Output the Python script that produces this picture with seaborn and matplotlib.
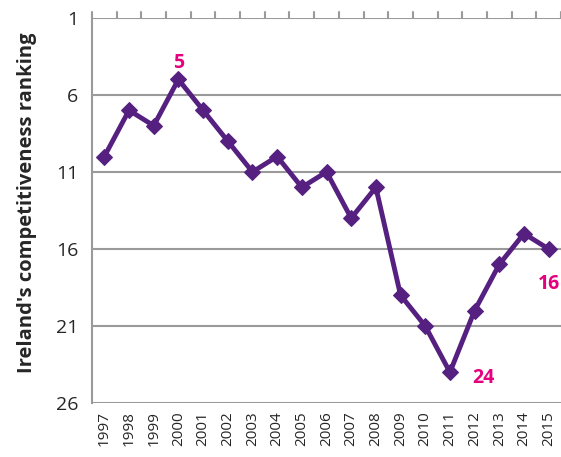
import matplotlib
matplotlib.use("Agg")
import matplotlib.pyplot as plt
import seaborn as sns
import pandas as pd

years = [str(y) for y in range(1997, 2016)]
ranking = [10, 7, 8, 5, 7, 9, 11, 10, 12, 11, 14, 12, 19, 21, 24, 20, 17, 15, 16]
y_ticks = [1, 6, 11, 16, 21, 26]

# annotated points: (year, label text)
callouts = [("2000", "5"), ("2011", "24"), ("2015", "16")]

df = pd.DataFrame({"year": years, "rank": ranking})

sns.set_style("white")
plt.rcParams["font.family"] = ["Open Sans", "DejaVu Sans"]

fig = plt.figure(figsize=(5.61, 4.57), dpi=100)
ax = fig.add_axes([0.164, 0.118, 0.836, 0.843])

grid_col = "#9a9a9a"
purple = "#55207f"
pink = "#e5007d"

for t in y_ticks:
    ax.axhline(t, color=grid_col, lw=1.5, zorder=1)

x_pos = list(range(len(years)))
sns.lineplot(x=x_pos, y=df["rank"], ax=ax, color=purple, lw=3.5,
             marker="D", markersize=8.5, markeredgecolor=purple, zorder=3)

ax.set_xlim(-0.5, len(years) - 0.5)
ax.set_ylim(26, 1)
ax.set_yticks(y_ticks)
ax.set_yticklabels([str(t) for t in y_ticks], fontsize=14)
ax.set_xticks(x_pos)
ax.set_xticklabels(years, rotation=90, fontsize=11)
ax.tick_params(axis="x", length=0, pad=6)
ax.tick_params(axis="y", length=6, width=1.5, color=grid_col, pad=4, direction="out")

ax.set_ylabel("Ireland's competitiveness ranking", fontsize=14.5, fontweight="bold")
ax.yaxis.set_label_coords(-0.118, 0.52)
ax.set_xlabel("")

for side in ["top", "right", "bottom"]:
    ax.spines[side].set_visible(False)
ax.spines["left"].set_color(grid_col)
ax.spines["left"].set_linewidth(1.5)

# category tick marks above the top gridline
for i in range(len(years) + 1):
    ax.plot([i - 0.5, i - 0.5], [1, 0.6], color=grid_col, lw=1.5, clip_on=False, zorder=1)

offsets = {"5": (0, 12), "24": (24, -4), "16": (0, -25)}
for yr, txt in callouts:
    i = years.index(yr)
    dx, dy = offsets[txt]
    ax.annotate(txt, (i, ranking[i]), xytext=(dx, dy), textcoords="offset points",
                ha="center", va="center", color=pink, fontsize=14, fontweight="bold")

fig.savefig("out.png", dpi=100)
